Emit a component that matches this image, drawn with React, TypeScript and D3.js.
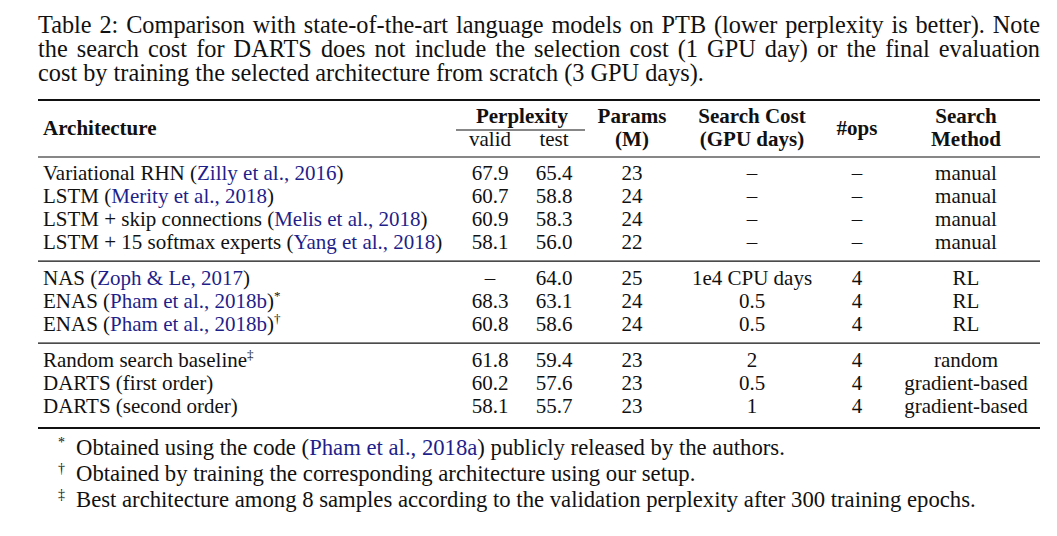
import React, { useLayoutEffect, useRef, useState } from "react";
import * as d3 from "d3";

const captionLines = [
  "Table 2: Comparison with state-of-the-art language models on PTB (lower perplexity is better). Note",
  "the search cost for DARTS does not include the selection cost (1 GPU day) or the final evaluation",
  "cost by training the selected architecture from scratch (3 GPU days).",
];
const captionJustify = [true, true, false];

const archNames = [
  "Variational RHN",
  "LSTM",
  "LSTM + skip connections",
  "LSTM + 15 softmax experts",
  "NAS",
  "ENAS",
  "ENAS",
  "Random search baseline",
  "DARTS (first order)",
  "DARTS (second order)",
];
const archCites = [
  "Zilly et al., 2016",
  "Merity et al., 2018",
  "Melis et al., 2018",
  "Yang et al., 2018",
  "Zoph & Le, 2017",
  "Pham et al., 2018b",
  "Pham et al., 2018b",
  "",
  "",
  "",
];
const archMarks = ["", "", "", "", "", "*", "†", "‡", "", ""];
const rowGroups = [0, 0, 0, 0, 1, 1, 1, 2, 2, 2];
const validPpl = ["67.9", "60.7", "60.9", "58.1", "–", "68.3", "60.8", "61.8", "60.2", "58.1"];
const testPpl = ["65.4", "58.8", "58.3", "56.0", "64.0", "63.1", "58.6", "59.4", "57.6", "55.7"];
const paramsM = ["23", "24", "24", "22", "25", "24", "24", "23", "23", "23"];
const searchCost = ["–", "–", "–", "–", "1e4 CPU days", "0.5", "0.5", "2", "0.5", "1"];
const numOps = ["–", "–", "–", "–", "4", "4", "4", "4", "4", "4"];
const searchMethod = [
  "manual", "manual", "manual", "manual",
  "RL", "RL", "RL",
  "random", "gradient-based", "gradient-based",
];

const columnKeys = ["valid", "test", "params", "cost", "ops", "method"];
const columnCenters = [490, 554, 632, 752, 857, 966];

const footMarks = ["*", "†", "‡"];
const footPre = [
  "Obtained using the code (",
  "Obtained by training the corresponding architecture using our setup.",
  "Best architecture among 8 samples according to the validation perplexity after 300 training epochs.",
];
const footCites = ["Pham et al., 2018a", "", ""];
const footPost = [") publicly released by the authors.", "", ""];

const FONT = "'Liberation Serif', 'Times New Roman', Times, serif";
const INK = "#111";
const CITE = "#1f1f8a";

const W = 1057;
const H = 536;
const LEFT = 38;
const RIGHT = 1040;
const CAP_SIZE = 24.3;
const TAB_SIZE = 21;
const FOOT_SIZE = 22.7;

export default function App() {
  const capRefs = useRef<(SVGTextElement | null)[]>([]);
  const [wordSpacings, setWordSpacings] = useState<number[]>(captionLines.map(() => 0));

  useLayoutEffect(() => {
    const ws = captionLines.map((line, i) => {
      const el = capRefs.current[i];
      if (!el || !captionJustify[i]) return 0;
      const w = el.getComputedTextLength();
      const spaces = (line.match(/ /g) || []).length;
      return (RIGHT - LEFT - w) / spaces;
    });
    setWordSpacings(ws);
  }, []);

  const colX = d3.scaleOrdinal<string, number>().domain(columnKeys).range(columnCenters);
  const capY = d3.scaleLinear().domain([0, 1]).range([33, 57]);
  const rowY = d3.scaleLinear().domain([0, 1]).range([180, 203]);
  const rowPos = (i: number) => rowY(i + rowGroups[i] * 0.57);
  const footY = d3.scaleLinear().domain([0, 1]).range([455, 481]);

  const topRule = 100;
  const midRule = 157;
  const bottomRule = 428;
  const groupRules: number[] = [];
  for (let i = 1; i < archNames.length; i++) {
    if (rowGroups[i] !== rowGroups[i - 1]) {
      groupRules.push((rowPos(i - 1) + rowPos(i)) / 2 - 6);
    }
  }

  return (
    <svg
      width={W}
      height={H}
      viewBox={`0 0 ${W} ${H}`}
      style={{ position: "absolute", left: 0, top: 0, background: "#fff" }}
      fontFamily={FONT}
      fill={INK}
    >
      <rect x={0} y={0} width={W} height={H} fill="#fff" />
      {captionLines.map((line, i) => (
        <text
          key={i}
          ref={(el) => {
            capRefs.current[i] = el;
          }}
          x={LEFT}
          y={capY(i)}
          fontSize={CAP_SIZE}
          style={{ wordSpacing: `${wordSpacings[i]}px` }}
        >
          {line}
        </text>
      ))}

      <line x1={LEFT} x2={RIGHT} y1={topRule} y2={topRule} stroke={INK} strokeWidth={2} />
      <line x1={LEFT} x2={RIGHT} y1={midRule} y2={midRule} stroke={INK} strokeWidth={1.2} />
      {groupRules.map((y, i) => (
        <line key={i} x1={LEFT} x2={RIGHT} y1={y} y2={y} stroke={INK} strokeWidth={1.2} />
      ))}
      <line x1={LEFT} x2={RIGHT} y1={bottomRule} y2={bottomRule} stroke={INK} strokeWidth={2} />
      <line x1={456} x2={585} y1={130} y2={130} stroke={INK} strokeWidth={1.2} />

      <g fontSize={TAB_SIZE} fontWeight="bold">
        <text x={43} y={135}>Architecture</text>
        <text x={(colX("valid") + colX("test")) / 2} y={123} textAnchor="middle">Perplexity</text>
        <text x={colX("params")} y={123} textAnchor="middle">Params</text>
        <text x={colX("params")} y={146} textAnchor="middle">(M)</text>
        <text x={colX("cost")} y={123} textAnchor="middle">Search Cost</text>
        <text x={colX("cost")} y={146} textAnchor="middle">(GPU days)</text>
        <text x={colX("ops")} y={135} textAnchor="middle">#ops</text>
        <text x={colX("method")} y={123} textAnchor="middle">Search</text>
        <text x={colX("method")} y={146} textAnchor="middle">Method</text>
      </g>
      <g fontSize={TAB_SIZE}>
        <text x={colX("valid")} y={146} textAnchor="middle">valid</text>
        <text x={colX("test")} y={146} textAnchor="middle">test</text>
      </g>

      <g fontSize={TAB_SIZE}>
        {archNames.map((name, i) => {
          const y = rowPos(i);
          return (
            <g key={i}>
              <text x={43} y={y}>
                {name}
                {archCites[i] ? " (" : ""}
                {archCites[i] ? <tspan fill={CITE}>{archCites[i]}</tspan> : null}
                {archCites[i] ? ")" : ""}
                {archMarks[i] ? (
                  <tspan fontSize={13} dy={-8}>{archMarks[i]}</tspan>
                ) : null}
              </text>
              <text x={colX("valid")} y={y} textAnchor="middle">{validPpl[i]}</text>
              <text x={colX("test")} y={y} textAnchor="middle">{testPpl[i]}</text>
              <text x={colX("params")} y={y} textAnchor="middle">{paramsM[i]}</text>
              <text x={colX("cost")} y={y} textAnchor="middle">{searchCost[i]}</text>
              <text x={colX("ops")} y={y} textAnchor="middle">{numOps[i]}</text>
              <text x={colX("method")} y={y} textAnchor="middle">{searchMethod[i]}</text>
            </g>
          );
        })}
      </g>

      <g fontSize={FOOT_SIZE}>
        {footMarks.map((m, i) => (
          <g key={i}>
            <text x={58} y={footY(i) - 8} fontSize={14}>{m}</text>
            <text x={76} y={footY(i)}>
              {footPre[i]}
              {footCites[i] ? <tspan fill={CITE}>{footCites[i]}</tspan> : null}
              {footPost[i]}
            </text>
          </g>
        ))}
      </g>
    </svg>
  );
}
